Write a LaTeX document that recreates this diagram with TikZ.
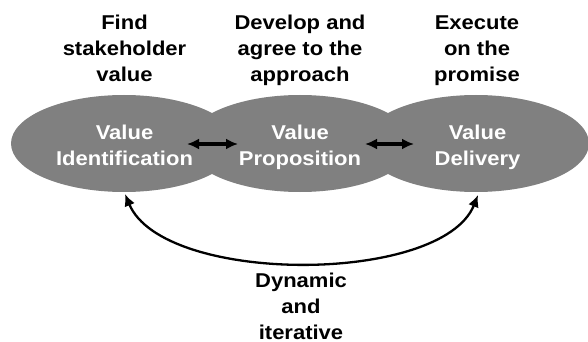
\documentclass[tikz,border=0pt]{standalone}
\usepackage{fontspec}
\setmainfont{Liberation Sans}[FakeStretch=1.1]
\usetikzlibrary{shapes.geometric,arrows.meta}
\definecolor{ellgray}{RGB}{128,128,128}
\tikzset{
  ell/.style={ellipse, fill=ellgray, draw=none, minimum width=226pt, minimum height=97pt, inner sep=0pt},
  lbl/.style={align=center, inner sep=0pt, font=\fontsize{20}{26}\selectfont\bfseries, anchor=base},
  inlbl/.style={lbl, text=white},
  dbl/.style={{Latex[length=12pt,width=11pt]}-{Latex[length=12pt,width=11pt]}, line width=3.5pt},
  loop/.style={{Latex[length=12pt,width=11pt]}-{Latex[length=12pt,width=11pt]}, line width=2.3pt}
}
\begin{document}
\begin{tikzpicture}[x=1pt,y=-1pt]
\useasboundingbox (0,0) rectangle (588,342);
% ellipses
\node[ell] (e1) at (124,143.5) {};
\node[ell] (e2) at (300,143.5) {};
\node[ell] (e3) at (476,143.5) {};
% inner labels (anchor = baseline of last line)
\node[inlbl] (t1) at (124.5,165) {Value\\Identification};
\node[inlbl] (t2) at (300,165) {Value\\Proposition};
\node[inlbl] (t3) at (477.5,165) {Value\\Delivery};
% top labels
\node[lbl] (h1) at (124.5,82) {Find\\stakeholder\\value};
\node[lbl] (h2) at (300,82) {Develop and\\agree to the\\approach};
\node[lbl] (h3) at (477,82) {Execute\\on the\\promise};
% bottom label
\node[lbl] (b) at (301,339) {Dynamic\\and\\iterative};
% double arrows
\coordinate (a1l) at (187,144);
\coordinate (a1r) at (238,144);
\coordinate (a2l) at (365,144);
\coordinate (a2r) at (414,144);
\draw[dbl] (a1l) -- (a1r);
\draw[dbl] (a2l) -- (a2r);
% loop arrow
\coordinate (c1) at (125,194);
\coordinate (c3) at (478,195);
\draw[loop] (c1) .. controls (163,285) and (442,285) .. (c3);
\end{tikzpicture}
\end{document}
